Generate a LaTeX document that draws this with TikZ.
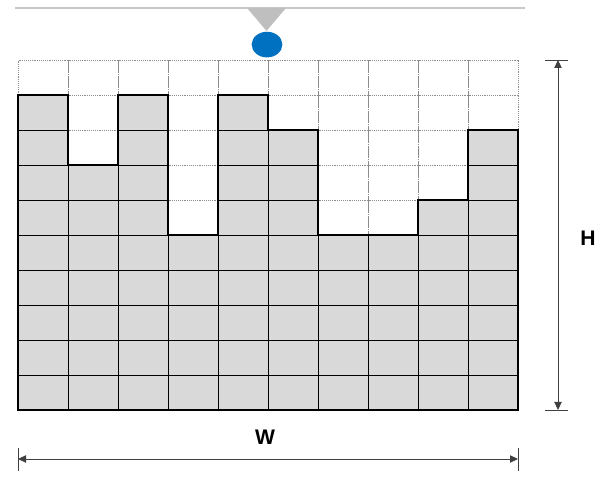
\documentclass[tikz,border=0pt]{standalone}
\usepackage{fontspec}
\setmainfont{Liberation Sans}
\usepackage{xcolor}
\usetikzlibrary{arrows.meta,positioning,shapes.geometric}
\definecolor{cellgrey}{HTML}{D9D9D9}
\definecolor{dropblue}{HTML}{0070C0}
\definecolor{railgrey}{HTML}{C8C8C8}

\begin{document}
\begin{tikzpicture}[
  x=1.5cm, y=1.05cm,
  emptycell/.style={draw=black!45, densely dotted, line width=0.6pt},
  fullcell/.style={draw=black, line width=0.6pt, fill=cellgrey},
  profile/.style={draw=black, line width=1.7pt, line join=miter},
  dimline/.style={draw=black!75, line width=0.8pt,
                  {Triangle[length=2.4mm, width=2.2mm]}-{Triangle[length=2.4mm, width=2.2mm]}},
  dimbar/.style={draw=black!75, line width=0.8pt},
  lbl/.style={font=\bfseries\fontsize{18}{20}\selectfont, inner sep=0pt},
]
\useasboundingbox (-0.36,-2.2) rectangle (11.9,11.714);

% rail and nozzle
\draw[railgrey, line width=1.4pt] (-0.06,11.486) -- (10.14,11.486);
\fill[black!25] (4.58,11.486) -- (5.36,11.486) -- (4.97,10.83) -- cycle;
\node[ellipse, fill=dropblue, minimum width=0.92cm, minimum height=0.77cm,
      inner sep=0pt] (drop) at (4.98,10.44) {};

% empty grid
\foreach \c in {0,...,9}
  \foreach \r in {0,...,9}
    \draw[emptycell] (\c,\r) rectangle ++(1,1);

% filled columns
\foreach \c/\h in {0/9, 1/7, 2/9, 3/5, 4/9, 5/8, 6/5, 7/5, 8/6, 9/8}
  \foreach \r in {1,...,\h}
    \draw[fullcell] (\c,\r-1) rectangle ++(1,1);

% surface profile
\draw[profile] (0,0) -- (0,9) -- (1,9) -- (1,7) -- (2,7) -- (2,9) -- (3,9)
  -- (3,5) -- (4,5) -- (4,9) -- (5,9) -- (5,8) -- (6,8) -- (6,5) -- (8,5)
  -- (8,6) -- (9,6) -- (9,8) -- (10,8) -- (10,0) -- cycle;

% height
\coordinate (htop) at (10.8,10);
\coordinate (hbot) at (10.8,0);
\draw[dimbar] (10.54,10) -- (11.0,10);
\draw[dimbar] (10.54,0) -- (11.0,0);
\draw[dimline] (hbot) -- (htop);
\node[lbl] (hlbl) at (11.4,4.91) {H};

% width
\coordinate (wleft) at (0,-1.4);
\coordinate (wright) at (10,-1.4);
\draw[dimbar] (0,-1.09) -- (0,-1.74);
\draw[dimbar] (10,-1.09) -- (10,-1.74);
\draw[dimline] (wleft) -- (wright);
\node[lbl] (wlbl) at (4.94,-0.77) {W};
\end{tikzpicture}
\end{document}
